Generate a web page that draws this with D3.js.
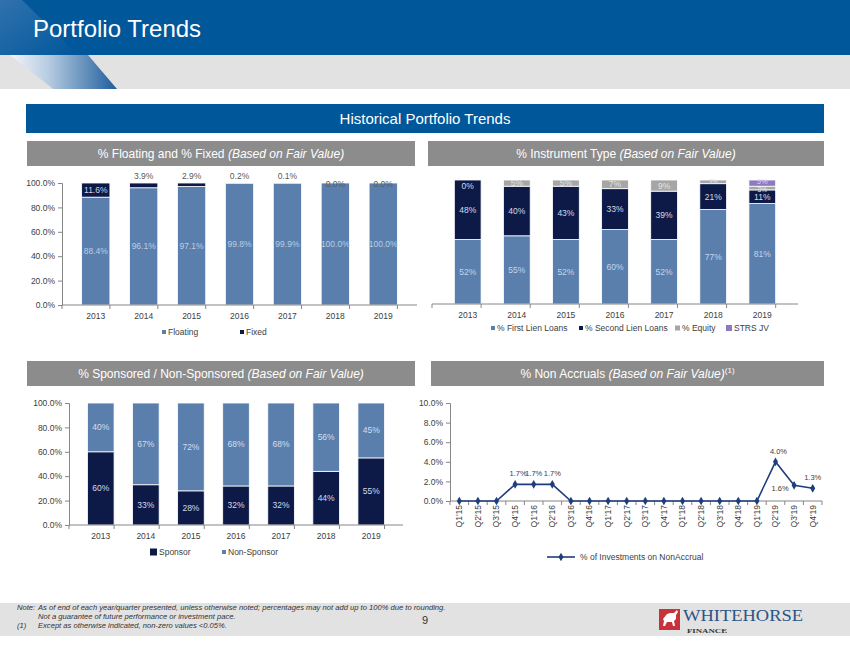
<!DOCTYPE html>
<html><head><meta charset="utf-8">
<script src="https://cdn.jsdelivr.net/npm/d3@7"></script>
<style>body{margin:0;background:#fff}svg{display:block;font-family:"Liberation Sans",Arial,sans-serif}</style>
</head><body><svg id="c" width="850" height="650"></svg>
<script>
// ---------- DATA ----------
const years = ["2013","2014","2015","2016","2017","2018","2019"];
const floating = [88.4, 96.1, 97.1, 99.8, 99.9, 100.0, 100.0];
const fixed = [11.6, 3.9, 2.9, 0.2, 0.1, 0.0, 0.0];
const firstLien = [52, 55, 52, 60, 52, 77, 81];
const secondLien = [48, 40, 43, 33, 39, 21, 11];
const equity = [0, 5, 5, 7, 9, 3, 3];
const strsJV = [0, 0, 0, 0, 0, 0, 5];
const sponsor = [60, 33, 28, 32, 32, 44, 55];
const nonSponsor = [40, 67, 72, 68, 68, 56, 45];
const quarters = ["Q1'15","Q2'15","Q3'15","Q4'15","Q1'16","Q2'16","Q3'16","Q4'16","Q1'17","Q2'17","Q3'17","Q4'17","Q1'18","Q2'18","Q3'18","Q4'18","Q1'19","Q2'19","Q3'19","Q4'19"];
const nonAccrual = [0, 0, 0, 1.7, 1.7, 1.7, 0, 0, 0, 0, 0, 0, 0, 0, 0, 0, 0, 4.0, 1.6, 1.3];
const pctTicks = [0, 20, 40, 60, 80, 100];
const naTicks = [0, 2, 4, 6, 8, 10];

// ---------- STYLE ----------
const BLUE = "#00579A", STEEL = "#5A7FAD", NAVY = "#0D1A47", GRAY = "#A6A6A6", PURPLE = "#8D79BE";
const AX = "#404040", AXLINE = "#868686";
const svg = d3.select("#c");

// ---------- HEADER ----------
const defs = svg.append("defs");
const gr = defs.append("linearGradient").attr("id","diag").attr("x1","0").attr("x2","1").attr("y1","0").attr("y2","0");
gr.append("stop").attr("offset","0").attr("stop-color","#f2f5f9");
gr.append("stop").attr("offset","0.35").attr("stop-color","#b9cde2");
gr.append("stop").attr("offset","1").attr("stop-color","#1d5d9c");
const gr2 = defs.append("linearGradient").attr("id","diag2").attr("x1","0").attr("x2","1").attr("y1","0").attr("y2","1");
gr2.append("stop").attr("offset","0").attr("stop-color","#3d78b3");
gr2.append("stop").attr("offset","1").attr("stop-color",BLUE);

svg.append("rect").attr("x",0).attr("y",0).attr("width",850).attr("height",55).attr("fill",BLUE);
svg.append("polygon").attr("points","0,0 22,0 78,55 0,55").attr("fill","url(#diag2)").attr("opacity",0.8);
svg.append("rect").attr("x",0).attr("y",55).attr("width",850).attr("height",34).attr("fill","#E2E2E2");
svg.append("polygon").attr("points","10,55 88,55 117,89 53,89").attr("fill","url(#diag)");
svg.append("text").attr("x",33).attr("y",37).attr("fill","#fff").attr("font-size",24).text("Portfolio Trends");

svg.append("rect").attr("x",26).attr("y",104).attr("width",798).attr("height",29).attr("fill",BLUE);
svg.append("text").attr("x",425).attr("y",124).attr("text-anchor","middle").attr("fill","#fff").attr("font-size",15).text("Historical Portfolio Trends");

function subHeader(x, y, w, main, ital, sup) {
  svg.append("rect").attr("x",x).attr("y",y).attr("width",w).attr("height",25).attr("fill","#8C8C8C");
  const t = svg.append("text").attr("x",x + w/2).attr("y",y + 17).attr("text-anchor","middle").attr("fill","#fff").attr("font-size",12);
  t.append("tspan").text(main);
  t.append("tspan").attr("font-style","italic").text(ital);
  if (sup) t.append("tspan").attr("font-size",8).attr("dy",-5).text(sup);
}
subHeader(27, 141, 388, "% Floating and % Fixed ", "(Based on Fair Value)");
subHeader(428, 141, 396, "% Instrument  Type ", "(Based on Fair Value)");
subHeader(27, 361, 388, "% Sponsored / Non-Sponsored ", "(Based on Fair Value)");
subHeader(431, 361, 393, "% Non Accruals ", "(Based on Fair Value)", "(1)");

// ---------- HELPERS ----------
function yAxis(y, x, ticks, fmt) {
  const g = svg.append("g").attr("transform",`translate(${x},0)`)
    .call(d3.axisLeft(y).tickValues(ticks).tickSize(4).tickPadding(3).tickFormat(fmt));
  g.select(".domain").attr("stroke",AXLINE);
  g.selectAll(".tick line").attr("stroke",AXLINE);
  g.selectAll("text").attr("fill",AX).attr("font-size",8.5).attr("font-family",'"Liberation Sans",Arial,sans-serif');
}
function xAxisBand(x, y0, labels, showLabels) {
  const r = x.range();
  svg.append("line").attr("x1",r[0]).attr("x2",r[1]).attr("y1",y0).attr("y2",y0).attr("stroke",AXLINE);
  const bounds = d3.range(labels.length + 1).map(i => r[0] + i * x.step());
  svg.append("g").selectAll("line").data(bounds).join("line")
    .attr("x1",d=>d).attr("x2",d=>d).attr("y1",y0).attr("y2",y0+4).attr("stroke",AXLINE);
  if (showLabels) {
    svg.append("g").selectAll("text").data(labels).join("text")
      .attr("x",d=>x(d)+x.bandwidth()/2).attr("y",y0+14).attr("text-anchor","middle")
      .attr("fill",AX).attr("font-size",8.5).text(d=>d);
  }
}
function stacked(x, y, series) {
  const rows = years.map((yr,i) => { const o = {year: yr}; series.forEach(s => o[s.key] = s.values[i]); return o; });
  const st = d3.stack().keys(series.map(s=>s.key)).offset(d3.stackOffsetExpand)(rows);
  st.forEach((layer, li) => {
    const s = series[li];
    svg.append("g").selectAll("rect").data(layer).join("rect")
      .attr("x",d=>x(d.data.year)).attr("width",x.bandwidth())
      .attr("y",d=>y(d[1]*100)).attr("height",d=>Math.max(0, y(d[0]*100)-y(d[1]*100)))
      .attr("fill",s.color).attr("stroke","#fff").attr("stroke-width",0.8);
  });
  st.forEach((layer, li) => {
    const s = series[li];
    svg.append("g").selectAll("text").data(layer.filter(d=>s.show(d.data[s.key]))).join("text")
      .attr("x",d=>x(d.data.year)+x.bandwidth()/2)
      .attr("y",d=>s.ypos(d, (y(d[0]*100)+y(d[1]*100))/2))
      .attr("dy","0.35em").attr("text-anchor","middle")
      .attr("font-size",d=> s.size ? s.size(d) : 8.5)
      .attr("fill",d=>s.textColor(d.data[s.key])).text(d=>s.fmt(d.data[s.key]));
  });
}
function legend(items, y) {
  items.forEach(it => {
    svg.append("rect").attr("x",it.x).attr("y",y-it.s/2).attr("width",it.s).attr("height",it.s).attr("fill",it.color);
    svg.append("text").attr("x",it.x+it.s+2).attr("y",y).attr("dy","0.35em").attr("fill",AX).attr("font-size",8.5).text(it.label);
  });
}

// ---------- CHART 1: Floating / Fixed ----------
{
  const x = d3.scaleBand().domain(years).range([62,417]).padding(0.41);
  const y = d3.scaleLinear().domain([0,100]).range([305,183]);
  stacked(x, y, [
    {key:"Floating", values:floating, color:STEEL, show:()=>true, ypos:(d,m)=>m, textColor:()=>"#BBCDE4", fmt:v=>v.toFixed(1)+"%"},
    {key:"Fixed", values:fixed, color:NAVY, show:()=>true,
      ypos:(d,m)=> d.data.Fixed >= 5 ? m : (d.data.Fixed > 0 ? y(100)-7 : y(100)+1),
      textColor:v=> v >= 5 ? "#C9D4E8" : "#5a5a5a", fmt:v=>v.toFixed(1)+"%"}
  ]);
  yAxis(y, 62, pctTicks, d=>d.toFixed(1)+"%");
  xAxisBand(x, 305, years, true);
  legend([{x:162,s:4,color:STEEL,label:"Floating"},{x:240,s:4,color:NAVY,label:"Fixed"}], 332);
}

// ---------- CHART 2: Instrument Type ----------
{
  const x = d3.scaleBand().domain(years).range([432,798]).padding(0.455);
  const y = d3.scaleLinear().domain([0,100]).range([304,180]);
  const small = d => (d[1]-d[0]) < 0.04 && (d[1]-d[0]) > 0 ? 6.5 : 8.5;
  stacked(x, y, [
    {key:"First", values:firstLien, color:STEEL, show:()=>true, ypos:(d,m)=>m, textColor:()=>"#C3D4E9", fmt:v=>v+"%"},
    {key:"Second", values:secondLien, color:NAVY, show:()=>true, ypos:(d,m)=>m, textColor:()=>"#D3DAE8", fmt:v=>v+"%"},
    {key:"Equity", values:equity, color:GRAY, show:()=>true, size:small,
      ypos:(d,m)=> d.data.Equity===0 ? y(100)+6 : (d[1] < 0.99 ? m + 1.5 : m),
      textColor:v=> v===0 ? "#D3DAE8" : "#E4E4E4", fmt:v=>v+"%"},
    {key:"STRS", values:strsJV, color:PURPLE, show:v=>v>0, size:()=>7.5, ypos:(d,m)=>m-1.5, textColor:()=>"#DCD3EE", fmt:v=>v+"%"}
  ]);
  xAxisBand(x, 304, years, true);
  legend([
    {x:491,s:4,color:STEEL,label:"% First Lien Loans"},
    {x:579,s:4,color:NAVY,label:"% Second Lien Loans"},
    {x:675,s:5,color:GRAY,label:"% Equity"},
    {x:726,s:6,color:PURPLE,label:"STRS JV"}
  ], 328);
}

// ---------- CHART 3: Sponsored ----------
{
  const x = d3.scaleBand().domain(years).range([69,403]).padding(0.41);
  const y = d3.scaleLinear().domain([0,100]).range([525,403]);
  stacked(x, y, [
    {key:"Sponsor", values:sponsor, color:NAVY, show:()=>true, ypos:(d,m)=>m, textColor:()=>"#D3DAE8", fmt:v=>v+"%"},
    {key:"Non", values:nonSponsor, color:STEEL, show:()=>true, ypos:(d,m)=>m, textColor:()=>"#D3DEEC", fmt:v=>v+"%"}
  ]);
  yAxis(y, 69, pctTicks, d=>d.toFixed(1)+"%");
  xAxisBand(x, 525, years, true);
  legend([{x:150,s:7,color:NAVY,label:"Sponsor"},{x:222,s:4,color:STEEL,label:"Non-Sponsor"}], 552);
}

// ---------- CHART 4: Non Accruals ----------
{
  const x = d3.scaleBand().domain(quarters).range([450,822]);
  const y = d3.scaleLinear().domain([0,10]).range([501,403]);
  const cx = q => x(q) + x.bandwidth()/2;
  yAxis(y, 450, naTicks, d=>d.toFixed(1)+"%");
  xAxisBand(x, 501, quarters, false);
  svg.append("g").selectAll("text").data(quarters).join("text")
    .attr("transform",q=>`translate(${cx(q)},505) rotate(-90)`)
    .attr("text-anchor","end").attr("dy","0.35em").attr("fill",AX).attr("font-size",8.5).text(q=>q);
  const pts = quarters.map((q,i)=>({q, v:nonAccrual[i], i}));
  const LC = "#1F3D7D";
  svg.append("path").datum(pts).attr("fill","none").attr("stroke",LC).attr("stroke-width",1.6)
    .attr("d", d3.line().x(d=>cx(d.q)).y(d=>y(d.v)));
  svg.append("g").selectAll("path").data(pts).join("path")
    .attr("transform",d=>`translate(${cx(d.q)},${y(d.v)})`)
    .attr("d", d3.symbol(d3.symbolDiamond).size(22)).attr("fill",LC);
  svg.append("g").selectAll("text").data(pts.filter(d=>d.v>0)).join("text")
    .attr("x",d=>{
      const prev = pts[d.i-1], next = pts[d.i+1];
      if (prev && next && prev.v > d.v && next.v > 0 && next.v < d.v) return cx(d.q) - 14;
      if (next && next.v > d.v) return cx(d.q) - 8;
      return cx(d.q) + (prev && prev.v === 0 ? 3 : 0);
    })
    .attr("y",d=>{
      const prev = pts[d.i-1], next = pts[d.i+1];
      if (prev && next && prev.v > d.v && next.v > 0 && next.v < d.v) return y(d.v) + 6;
      return y(d.v) - 8;
    })
    .attr("text-anchor","middle").attr("fill",AX).attr("font-size",7.5)
    .text(d=>d.v.toFixed(1)+"%");
  svg.append("line").attr("x1",547).attr("x2",575).attr("y1",557).attr("y2",557).attr("stroke",LC).attr("stroke-width",1.6);
  svg.append("path").attr("transform","translate(561,557)").attr("d", d3.symbol(d3.symbolDiamond).size(22)).attr("fill",LC);
  svg.append("text").attr("x",580).attr("y",557).attr("dy","0.35em").attr("fill",AX).attr("font-size",8.5).text("% of Investments on NonAccrual");
}

// ---------- FOOTER ----------
svg.append("rect").attr("x",0).attr("y",603).attr("width",850).attr("height",33).attr("fill","#E2E2E2");
const note = svg.append("g").attr("font-size",7.6).attr("font-style","italic").attr("fill","#333");
note.append("text").attr("x",17).attr("y",610).text("Note:");
note.append("text").attr("x",38).attr("y",610).text("As of end of each year/quarter presented, unless otherwise noted; percentages may not add up to 100% due to rounding.");
note.append("text").attr("x",38).attr("y",619).text("Not a guarantee of future performance or investment pace.");
note.append("text").attr("x",17).attr("y",628).text("(1)");
note.append("text").attr("x",38).attr("y",628).text("Except as otherwise indicated, non-zero values <0.05%.");
svg.append("text").attr("x",425).attr("y",624).attr("text-anchor","middle").attr("font-size",11).attr("fill","#333").text("9");
// logo
svg.append("rect").attr("x",659).attr("y",609).attr("width",21).attr("height",21).attr("fill","#C8323A");
svg.append("path").attr("d","M663,619 l4,-5 l3,-1 l4,0 l3,-3 l1,2 l-2,3 l0,4 l-2,2 l1,5 l-2,0 l-1,-4 l-5,0 l-2,4 l-2,0 l1,-5 z").attr("fill","#fff");
svg.append("text").attr("x",683).attr("y",621).attr("font-family",'"Liberation Serif","DejaVu Serif",serif')
  .attr("font-size",17).attr("fill","#2B5486").attr("textLength",120).attr("lengthAdjust","spacingAndGlyphs").text("WHITEHORSE");
svg.append("text").attr("x",687).attr("y",633).attr("font-family",'"Liberation Serif","DejaVu Serif",serif')
  .attr("font-size",7).attr("font-weight","bold").attr("fill","#333").attr("textLength",40).attr("lengthAdjust","spacingAndGlyphs").text("FINANCE");
</script></body></html>
